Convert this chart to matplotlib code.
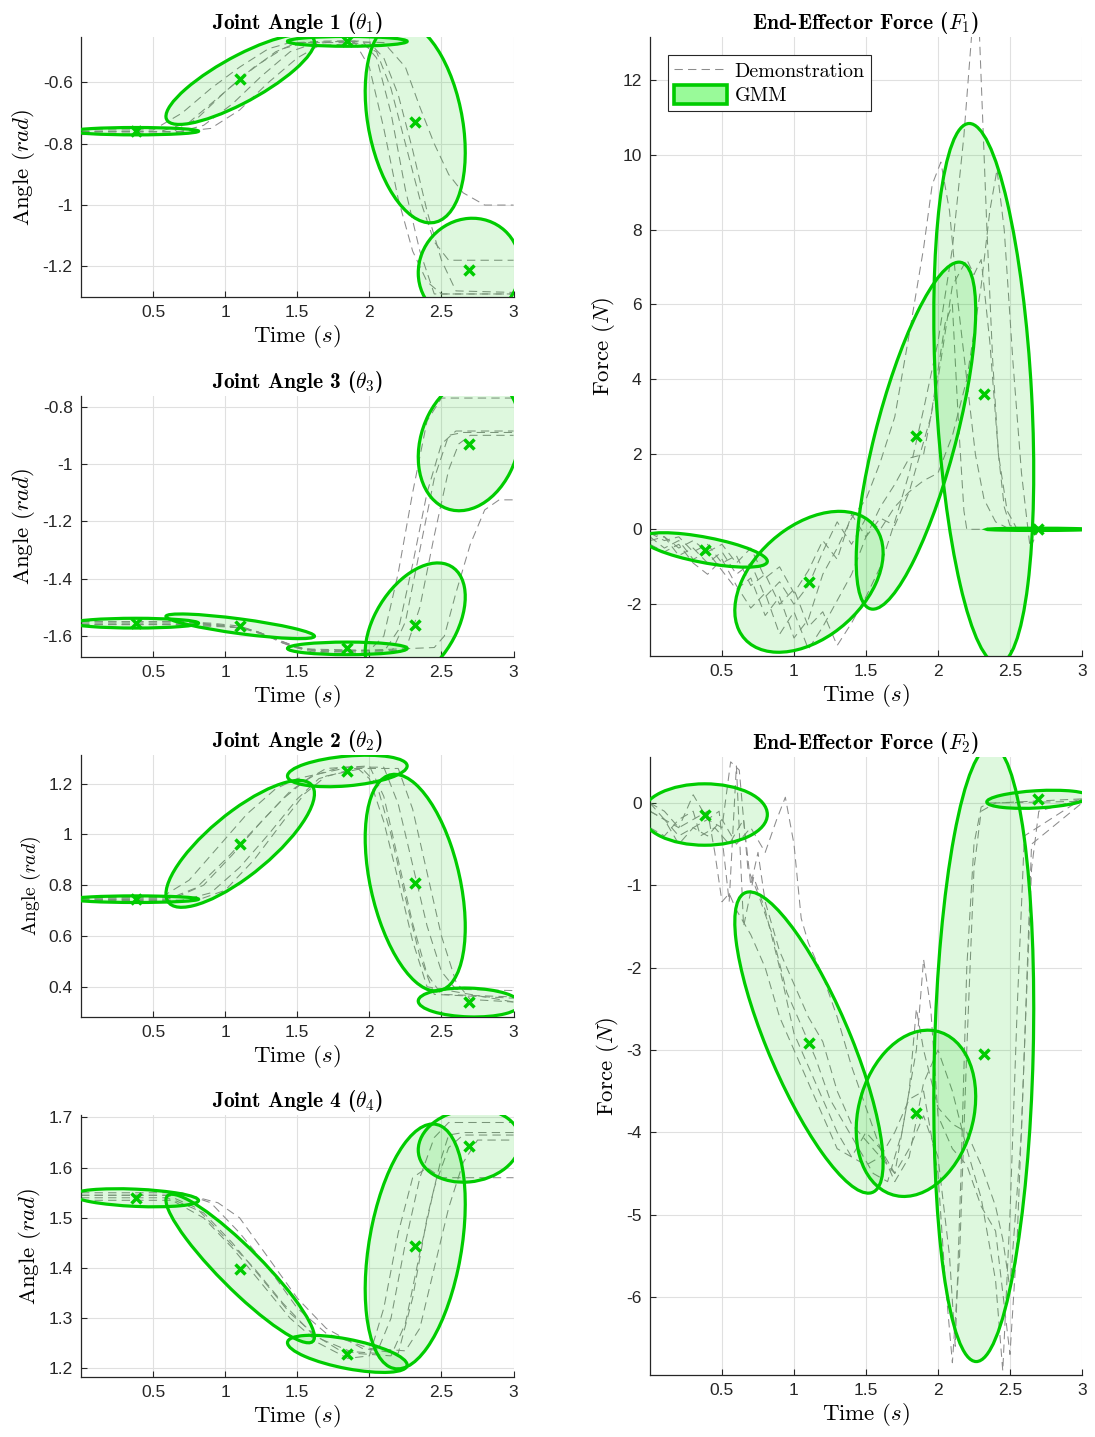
import numpy as np
import matplotlib
matplotlib.use("Agg")
import matplotlib.pyplot as plt
from matplotlib.patches import Ellipse, Patch
from matplotlib.lines import Line2D
from matplotlib.ticker import FuncFormatter

plt.rcParams['mathtext.fontset'] = 'cm'
plt.rcParams['axes.unicode_minus'] = False

# GMM components: time means and time half-extents are shared by every panel
gmm_t = [0.38, 1.104, 1.847, 2.318, 2.693]
gmm_dt = [0.435, 0.515, 0.415, 0.347, 0.354]

# per panel: component means, half-extents along y and correlation
th1_mu = [-0.759, -0.590, -0.466, -0.729, -1.211]
th1_dy = [0.012, 0.147, 0.016, 0.329, 0.168]
th1_rho = [0.0, 0.82, 0.0, -0.30, 0.06]

th3_mu = [-1.555, -1.566, -1.643, -1.560, -0.929]
th3_dy = [0.017, 0.043, 0.022, 0.215, 0.234]
th3_rho = [0.0, -0.8, 0.0, 0.45, 0.2]

th2_mu = [0.745, 0.963, 1.250, 0.810, 0.338]
th2_dy = [0.013, 0.25, 0.062, 0.427, 0.057]
th2_rho = [0.0, 0.79, 0.32, -0.41, -0.1]

th4_mu = [1.540, 1.399, 1.229, 1.443, 1.644]
th4_dy = [0.018, 0.148, 0.037, 0.244, 0.073]
th4_rho = [-0.3, -0.92, -0.6, 0.35, 0.12]

f1_mu = [-0.55, -1.40, 2.50, 3.62, 0.0]
f1_dy = [0.46, 1.88, 4.63, 7.21, 0.03]
f1_rho = [-0.66, 0.41, 0.72, -0.29, 0.0]

f2_mu = [-0.14, -2.91, -3.77, -3.046, 0.045]
f2_dy = [0.373, 1.83, 1.01, 3.74, 0.11]
f2_rho = [0.0, -0.8, 0.2, 0.15, 0.3]

# demonstrations (time, value)
th1_demos = [
    ([0, 0.55, 0.75, 0.95, 1.15, 1.35, 1.5, 1.7, 1.95, 2.05, 2.15, 2.25, 2.35, 2.45, 3.0],
     [-0.76, -0.76, -0.73, -0.65, -0.57, -0.50, -0.47, -0.465, -0.465, -0.52, -0.70, -0.95, -1.15, -1.29, -1.29]),
    ([0, 0.65, 0.85, 1.05, 1.25, 1.45, 1.6, 1.8, 2.1, 2.25, 2.35, 2.45, 2.55, 2.65, 2.8, 3.0],
     [-0.765, -0.765, -0.74, -0.67, -0.58, -0.50, -0.475, -0.465, -0.47, -0.55, -0.68, -0.80, -0.90, -0.96, -1.0, -1.0]),
    ([0, 0.6, 0.8, 1.0, 1.2, 1.4, 1.55, 1.9, 2.05, 2.15, 2.25, 2.35, 2.45, 2.55, 3.0],
     [-0.77, -0.77, -0.72, -0.63, -0.55, -0.49, -0.47, -0.465, -0.50, -0.62, -0.80, -0.98, -1.12, -1.18, -1.18]),
    ([0, 0.7, 0.9, 1.1, 1.3, 1.5, 1.65, 2.0, 2.1, 2.2, 2.3, 2.4, 2.5, 2.6, 3.0],
     [-0.76, -0.76, -0.75, -0.69, -0.60, -0.52, -0.48, -0.47, -0.52, -0.64, -0.82, -1.02, -1.18, -1.28, -1.285]),
    ([0, 0.5, 0.7, 0.9, 1.1, 1.3, 1.45, 1.9, 2.0, 2.1, 2.2, 2.3, 2.4, 2.5, 3.0],
     [-0.755, -0.755, -0.70, -0.62, -0.55, -0.49, -0.47, -0.47, -0.55, -0.75, -0.98, -1.15, -1.25, -1.29, -1.29]),
]

th3_demos = [
    ([0, 0.7, 0.9, 1.1, 1.25, 1.4, 1.55, 2.0, 2.1, 2.2, 2.3, 2.4, 2.5, 3.0],
     [-1.55, -1.55, -1.555, -1.565, -1.59, -1.625, -1.645, -1.65, -1.60, -1.38, -1.10, -0.85, -0.77, -0.77]),
    ([0, 0.6, 0.85, 1.1, 1.3, 1.45, 1.6, 2.1, 2.2, 2.3, 2.4, 2.5, 2.6, 3.0],
     [-1.56, -1.56, -1.565, -1.57, -1.60, -1.635, -1.655, -1.655, -1.58, -1.35, -1.10, -0.93, -0.885, -0.885]),
    ([0, 0.65, 0.9, 1.15, 1.35, 1.5, 1.65, 2.25, 2.35, 2.45, 2.55, 2.62, 2.7, 3.0],
     [-1.555, -1.555, -1.56, -1.575, -1.61, -1.64, -1.65, -1.65, -1.50, -1.25, -1.02, -0.93, -0.90, -0.90]),
    ([0, 0.7, 0.95, 1.2, 1.4, 1.55, 1.7, 2.45, 2.52, 2.6, 2.7, 2.8, 2.9, 3.0],
     [-1.55, -1.55, -1.56, -1.58, -1.62, -1.645, -1.655, -1.64, -1.60, -1.45, -1.28, -1.16, -1.125, -1.125]),
    ([0, 0.75, 1.0, 1.2, 1.35, 1.5, 1.7, 2.15, 2.25, 2.35, 2.45, 2.55, 2.65, 3.0],
     [-1.56, -1.56, -1.565, -1.58, -1.61, -1.64, -1.66, -1.66, -1.55, -1.30, -1.05, -0.90, -0.89, -0.89]),
]

th2_demos = [
    ([0, 0.6, 0.8, 1.0, 1.2, 1.4, 1.55, 1.7, 2.0, 2.1, 2.2, 2.3, 2.4, 2.5, 3.0],
     [0.745, 0.745, 0.79, 0.90, 1.02, 1.14, 1.21, 1.26, 1.27, 1.15, 0.90, 0.65, 0.45, 0.37, 0.36]),
    ([0, 0.65, 0.85, 1.05, 1.25, 1.45, 1.6, 1.8, 2.1, 2.2, 2.3, 2.4, 2.5, 2.6, 3.0],
     [0.75, 0.75, 0.80, 0.92, 1.05, 1.17, 1.23, 1.265, 1.265, 1.12, 0.88, 0.64, 0.46, 0.39, 0.385]),
    ([0, 0.7, 0.9, 1.1, 1.3, 1.5, 1.65, 1.9, 2.2, 2.3, 2.4, 2.5, 2.6, 2.7, 3.0],
     [0.74, 0.74, 0.77, 0.87, 1.00, 1.14, 1.22, 1.26, 1.26, 1.10, 0.85, 0.60, 0.42, 0.35, 0.34]),
    ([0, 0.8, 1.0, 1.2, 1.4, 1.55, 1.7, 1.95, 2.05, 2.15, 2.25, 2.35, 2.45, 3.0],
     [0.745, 0.74, 0.78, 0.90, 1.05, 1.16, 1.23, 1.26, 1.20, 1.00, 0.75, 0.52, 0.37, 0.355]),
    ([0, 0.55, 0.75, 0.95, 1.15, 1.35, 1.5, 1.9, 2.0, 2.1, 2.2, 2.3, 2.4, 3.0],
     [0.75, 0.75, 0.82, 0.95, 1.08, 1.18, 1.22, 1.27, 1.22, 1.05, 0.82, 0.58, 0.40, 0.34]),
]

th4_demos = [
    ([0, 0.6, 0.8, 1.0, 1.2, 1.4, 1.6, 1.8, 2.05, 2.15, 2.25, 2.35, 2.45, 2.55, 3.0],
     [1.545, 1.545, 1.52, 1.46, 1.40, 1.33, 1.27, 1.235, 1.23, 1.30, 1.45, 1.58, 1.66, 1.69, 1.69]),
    ([0, 0.65, 0.85, 1.05, 1.25, 1.45, 1.65, 1.9, 2.15, 2.25, 2.35, 2.45, 2.55, 2.65, 3.0],
     [1.535, 1.535, 1.51, 1.45, 1.38, 1.31, 1.26, 1.23, 1.225, 1.29, 1.43, 1.56, 1.64, 1.665, 1.665]),
    ([0, 0.7, 0.9, 1.1, 1.3, 1.5, 1.7, 2.0, 2.25, 2.35, 2.45, 2.55, 2.65, 2.75, 3.0],
     [1.55, 1.55, 1.53, 1.47, 1.40, 1.32, 1.27, 1.24, 1.235, 1.28, 1.40, 1.52, 1.61, 1.655, 1.655]),
    ([0, 0.6, 0.85, 1.05, 1.25, 1.45, 1.65, 1.85, 2.0, 2.1, 2.2, 2.3, 2.4, 2.5, 3.0],
     [1.54, 1.54, 1.50, 1.44, 1.37, 1.30, 1.25, 1.22, 1.225, 1.32, 1.47, 1.58, 1.60, 1.58, 1.58]),
    ([0, 0.75, 0.95, 1.1, 1.3, 1.5, 1.7, 1.95, 2.2, 2.3, 2.4, 2.5, 2.55, 2.65, 3.0],
     [1.545, 1.545, 1.53, 1.50, 1.42, 1.34, 1.28, 1.24, 1.23, 1.34, 1.50, 1.62, 1.665, 1.67, 1.67]),
]

f1_demos = [
    ([0, 0.1, 0.2, 0.3, 0.4, 0.5, 0.6, 0.7, 0.8, 0.9, 1.0, 1.1, 1.2, 1.3, 1.4, 1.5, 1.6, 1.7, 1.8, 1.9,
      2.0, 2.1, 2.18, 2.24, 2.28, 2.31, 2.34, 2.38, 2.42, 2.46, 2.5, 2.6, 3.0],
     [-0.1, -0.3, -0.2, -0.6, -0.4, -0.9, -0.7, -1.5, -1.2, -2.0, -1.6, -2.6, -2.2, -3.1, -2.5, -1.8, -1.0, 0.2, 1.5, 3.2,
      5.0, 7.5, 10.5, 13.5, 14.0, 11.0, 8.0, 4.5, 2.0, 0.6, 0.1, 0.0, 0.0]),
    ([0, 0.1, 0.2, 0.3, 0.4, 0.5, 0.6, 0.7, 0.8, 0.9, 1.0, 1.1, 1.2, 1.3, 1.4, 1.5, 1.6, 1.7, 1.8, 1.9,
      1.96, 2.02, 2.08, 2.14, 2.2, 2.26, 2.32, 2.4, 2.5, 3.0],
     [-0.2, -0.5, -0.3, -0.8, -0.6, -1.1, -1.6, -1.3, -2.3, -1.8, -2.9, -2.4, -1.2, -0.5, 0.3, 0.8, 1.8, 3.0, 5.2, 7.5,
      9.2, 9.8, 8.5, 6.0, 4.0, 2.0, 0.8, 0.2, 0.0, 0.0]),
    ([0, 0.1, 0.2, 0.3, 0.4, 0.5, 0.6, 0.7, 0.8, 0.9, 1.0, 1.1, 1.2, 1.3, 1.4, 1.5, 1.6, 1.7, 1.8, 1.9,
      2.0, 2.1, 2.2, 2.3, 2.36, 2.41, 2.46, 2.52, 2.58, 2.64, 2.7, 3.0],
     [-0.3, -0.2, -0.7, -0.5, -0.9, -0.6, -1.2, -0.9, -1.8, -1.4, -2.0, -1.5, -0.6, 0.2, -0.4, 0.3, 0.0, 0.6, 1.0, 1.3,
      1.5, 2.5, 4.0, 6.5, 8.5, 9.6, 8.0, 4.5, 1.5, -0.5, 0.0, 0.0]),
    ([0, 0.1, 0.2, 0.3, 0.4, 0.5, 0.6, 0.7, 0.8, 0.9, 1.0, 1.1, 1.2, 1.3, 1.4, 1.5, 1.6, 1.7, 1.8, 1.9,
      2.0, 2.1, 2.2, 2.25, 2.3, 2.36, 2.42, 2.48, 2.55, 3.0],
     [-0.4, -0.6, -0.4, -0.9, -1.2, -0.8, -1.5, -2.1, -1.7, -2.8, -2.2, -3.2, -2.6, -1.9, -1.2, -0.2, 0.6, 1.2, 1.9, 2.0,
      4.0, 6.5, 7.2, 6.8, 7.2, 5.0, 2.0, 0.5, 0.0, 0.0]),
    ([0, 0.1, 0.2, 0.3, 0.4, 0.5, 0.6, 0.7, 0.8, 0.9, 1.0, 1.1, 1.2, 1.3, 1.4, 1.5, 1.6, 1.7, 1.8, 1.95,
      2.05, 2.1, 2.14, 2.18, 2.2, 3.0],
     [-0.1, -0.2, -0.5, -0.3, -0.6, -0.4, -0.9, -0.5, -1.3, -1.0, -1.7, -1.1, -0.3, -0.8, 0.4, -0.2, 0.3, 0.1, 1.0, 3.0,
      5.5, 6.0, 3.0, 0.5, 0.0, 0.0]),
]

f2_demos = [
    ([0, 0.1, 0.2, 0.3, 0.4, 0.45, 0.5, 0.55, 0.6, 0.7, 0.8, 0.9, 1.0, 1.1, 1.2, 1.3, 1.4, 1.5, 1.6, 1.7,
      1.8, 1.9, 2.0, 2.05, 2.1, 2.15, 2.2, 2.25, 2.3, 2.4, 3.0],
     [0.0, -0.1, -0.3, -0.2, -0.1, -0.6, -1.2, -1.1, -1.3, -1.6, -2.0, -2.6, -3.0, -3.4, -3.8, -4.2, -4.3, -4.4, -4.3, -4.0,
      -3.6, -3.5, -4.5, -5.8, -6.8, -5.5, -3.0, -0.8, -0.1, 0.0, 0.05]),
    ([0, 0.1, 0.2, 0.3, 0.4, 0.5, 0.56, 0.62, 0.68, 0.75, 0.85, 0.95, 1.05, 1.15, 1.25, 1.35, 1.45, 1.55, 1.65, 1.75,
      1.85, 1.9, 1.95, 2.0, 2.1, 2.2, 2.3, 2.4, 2.5, 2.55, 2.6, 2.65, 2.7, 3.0],
     [-0.1, -0.2, -0.4, -0.3, -0.2, -0.3, 0.5, 0.4, -0.8, -1.1, -1.6, -2.3, -2.7, -3.1, -3.6, -3.9, -4.2, -4.5, -4.6, -4.0,
      -3.0, -1.9, -2.5, -3.8, -4.2, -4.4, -4.9, -5.2, -6.7, -5.3, -3.0, -0.8, -0.1, 0.05]),
    ([0, 0.1, 0.2, 0.3, 0.4, 0.5, 0.6, 0.7, 0.8, 0.88, 0.94, 1.0, 1.05, 1.1, 1.2, 1.3, 1.4, 1.5, 1.6, 1.7,
      1.8, 1.9, 2.0, 2.1, 2.2, 2.3, 2.4, 2.45, 2.5, 2.55, 2.6, 3.0],
     [0.0, -0.2, -0.5, -0.3, -0.4, -0.2, -0.5, -0.3, -0.6, -0.2, 0.07, -0.5, -1.4, -1.7, -2.1, -2.6, -3.2, -3.7, -4.2, -4.6,
      -4.3, -3.4, -3.0, -3.5, -4.2, -4.8, -5.8, -6.9, -5.0, -2.5, -0.4, 0.05]),
    ([0, 0.1, 0.2, 0.3, 0.35, 0.45, 0.55, 0.65, 0.7, 0.75, 0.8, 0.9, 1.0, 1.1, 1.2, 1.3, 1.4, 1.5, 1.6, 1.7,
      1.8, 1.9, 2.0, 2.08, 2.12, 2.16, 2.2, 2.25, 2.3, 2.35, 3.0],
     [-0.3, -0.4, -0.2, -0.1, -0.4, -0.3, -0.5, -0.2, -1.0, -0.6, -1.2, -1.8, -2.2, -2.6, -2.9, -3.5, -3.9, -4.1, -4.3, -4.5,
      -4.2, -3.8, -4.3, -5.5, -6.6, -4.5, -2.0, -0.5, -0.05, 0.0, 0.02]),
    ([0, 0.1, 0.2, 0.3, 0.4, 0.48, 0.55, 0.6, 0.65, 0.72, 0.8, 0.9, 1.0, 1.1, 1.2, 1.3, 1.4, 1.5, 1.6, 1.7, 1.8,
      1.85, 1.9, 2.0, 2.1, 2.2, 2.3, 2.4, 2.45, 2.5, 2.58, 2.65, 3.0],
     [-0.1, -0.2, -0.3, 0.1, -0.2, -0.1, -1.2, 0.45, -1.5, -0.9, -1.3, -2.0, -2.8, -3.2, -3.6, -4.0, -4.3, -4.0, -4.2, -4.5,
      -3.5, -2.5, -3.0, -3.7, -3.9, -4.0, -4.4, -4.9, -5.3, -5.9, -4.0, -0.5, 0.0]),
]

green = (0, 0.8, 0)
demo_col = (0.55, 0.55, 0.55)
tick_font = 'Liberation Sans'
xticks = [0.5, 1, 1.5, 2, 2.5, 3]

fig = plt.figure(figsize=(10.95, 14.37), dpi=100)


def panel(rect, demos, mu, dy, rho, ylim, yticks, title, ylabel, ylab_size=16.5):
    ax = fig.add_axes(rect)
    for t, v in demos:
        ax.plot(t, v, color=demo_col, lw=0.75, dashes=(8, 5), zorder=2)
    for k in range(len(gmm_t)):
        c = rho[k] * gmm_dt[k] * dy[k]
        cov = np.array([[gmm_dt[k] ** 2, c], [c, dy[k] ** 2]])
        w, vec = np.linalg.eigh(cov)
        ang = np.degrees(np.arctan2(vec[1, 1], vec[0, 1]))
        e = Ellipse((gmm_t[k], mu[k]), 2 * np.sqrt(w[1]), 2 * np.sqrt(max(w[0], 0)), angle=ang,
                    facecolor=green + (0.13,), edgecolor=green, lw=2.3, zorder=3)
        ax.add_patch(e)
    ax.plot(gmm_t, mu, 'x', color=green, ms=7, mew=2.5, zorder=4, ls='none')
    ax.set_xlim(0, 3)
    ax.set_ylim(*ylim)
    ax.set_xticks(xticks)
    ax.set_yticks(yticks)
    ax.xaxis.set_major_formatter(FuncFormatter(lambda x, p: '%g' % x))
    ax.yaxis.set_major_formatter(FuncFormatter(lambda x, p: '%g' % x))
    for lab in ax.get_xticklabels() + ax.get_yticklabels():
        lab.set_fontfamily(tick_font)
        lab.set_fontsize(12.5)
        lab.set_color((0.15, 0.15, 0.15))
    ax.tick_params(direction='in', length=4, width=0.8, colors=(0.15, 0.15, 0.15), pad=6)
    ax.grid(True, color=(0.88, 0.88, 0.88), lw=0.8)
    ax.set_axisbelow(True)
    for s in ['top', 'right']:
        ax.spines[s].set_visible(False)
    for s in ['left', 'bottom']:
        ax.spines[s].set_color((0.15, 0.15, 0.15))
        ax.spines[s].set_linewidth(0.9)
    ax.set_title(title, fontfamily='cmb10', fontsize=15.5, pad=6)
    ax.set_xlabel(r'Time ($s$)', fontfamily='cmr10', fontsize=16.5, labelpad=2)
    ax.set_ylabel(ylabel, fontfamily='cmr10', fontsize=ylab_size, labelpad=4)
    return ax


lx, lw_ = 0.074, 0.395
rx, rw = 0.5936, 0.3945
panel([lx, 0.7933, lw_, 0.1809], th1_demos, th1_mu, th1_dy, th1_rho, (-1.30, -0.452),
      [-1.2, -1, -0.8, -0.6], r'Joint Angle 1 ($\theta_1$)', r'Angle ($rad$)')
panel([lx, 0.5428, lw_, 0.1816], th3_demos, th3_mu, th3_dy, th3_rho, (-1.673, -0.763),
      [-1.6, -1.4, -1.2, -1, -0.8], r'Joint Angle 3 ($\theta_3$)', r'Angle ($rad$)')
panel([lx, 0.2923, lw_, 0.1823], th2_demos, th2_mu, th2_dy, th2_rho, (0.281, 1.313),
      [0.4, 0.6, 0.8, 1, 1.2], r'Joint Angle 2 ($\theta_2$)', r'Angle ($rad$)', ylab_size=14)
panel([lx, 0.0418, lw_, 0.1823], th4_demos, th4_mu, th4_dy, th4_rho, (1.183, 1.705),
      [1.2, 1.3, 1.4, 1.5, 1.6, 1.7], r'Joint Angle 4 ($\theta_4$)', r'Angle ($rad$)')
axf1 = panel([rx, 0.5435, rw, 0.4308], f1_demos, f1_mu, f1_dy, f1_rho, (-3.38, 13.14),
             [-2, 0, 2, 4, 6, 8, 10, 12], r'End-Effector Force ($F_1$)', r'Force ($N$)')
panel([rx, 0.0431, rw, 0.4300], f2_demos, f2_mu, f2_dy, f2_rho, (-6.95, 0.557),
      [-6, -5, -4, -3, -2, -1, 0], r'End-Effector Force ($F_2$)', r'Force ($N$)')

handles = [Line2D([0], [0], color=demo_col, lw=0.75, dashes=(8, 5)),
           Patch(facecolor=(0.6, 0.98, 0.6), edgecolor=green, lw=2.6)]
leg = axf1.legend(handles, ['Demonstration', 'GMM'], loc='upper left', bbox_to_anchor=(0.042, 0.971),
                  prop={'family': 'cmr10', 'size': 14.5}, fancybox=False, framealpha=1,
                  edgecolor=(0.15, 0.15, 0.15), handlelength=2.6, handleheight=1.05,
                  borderpad=0.3, labelspacing=0.2, handletextpad=0.4, borderaxespad=0)
leg.get_frame().set_linewidth(0.8)

fig.savefig('out.png', dpi=100)
